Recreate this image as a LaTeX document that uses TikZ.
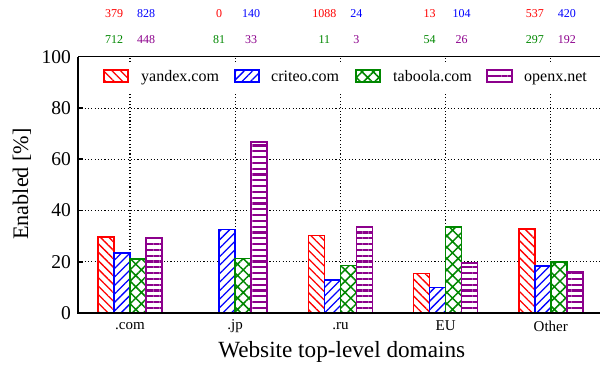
\documentclass[tikz,border=0pt]{standalone}
\usepackage{fontspec}
\setmainfont{Liberation Serif}
\usetikzlibrary{patterns.meta}
\definecolor{cred}{RGB}{255,0,0}
\definecolor{cblue}{RGB}{0,0,255}
\definecolor{cgreen}{RGB}{0,135,0}
\definecolor{cpurple}{RGB}{140,0,140}
\begin{document}
\begin{tikzpicture}[x=1pt,y=1pt,
  gridline/.style={line width=1.1pt, dash pattern=on 1.1pt off 2.2pt, black},
  axisline/.style={line width=1.8pt, black},
  redbar/.style={draw=cred, line width=1.6pt, preaction={fill=white}, pattern={Lines[angle=-45,distance=6pt,line width=1.3pt]}, pattern color=cred},
  bluebar/.style={draw=cblue, line width=1.6pt, preaction={fill=white}, pattern={Lines[angle=45,distance=6pt,line width=1.3pt]}, pattern color=cblue},
  greenbar/.style={draw=cgreen, line width=1.6pt, preaction={fill=white}, pattern={Hatch[angle=45,distance=8pt,line width=1.5pt]}, pattern color=cgreen},
  purplebar/.style={draw=cpurple, line width=1.6pt, preaction={fill=white}, pattern={Lines[angle=0,distance=5.8pt,line width=2.2pt]}, pattern color=cpurple},
  ticklab/.style={anchor=east, inner sep=0pt, font=\fontsize{19.5}{20}\selectfont},
  catlab/.style={inner sep=0pt, font=\fontsize{15}{16}\selectfont},
  cntlab/.style={inner sep=0pt, font=\fontsize{12}{13}\selectfont},
  leglab/.style={anchor=base west, inner sep=0pt, font=\fontsize{16}{17}\selectfont},
  axtitle/.style={inner sep=0pt, font=\fontsize{23.2}{24}\selectfont},
  aytitle/.style={inner sep=0pt, font=\fontsize{22.2}{24}\selectfont}
]
\useasboundingbox (0,0) rectangle (600,366);
% grid
\foreach \v in {20,40,60,80}{
  \draw[gridline] (78,{53+2.56*\v}) -- (600,{53+2.56*\v});
}
\foreach \i in {0,...,4}{
  \draw[gridline] ({130+105.2*\i},53) -- ({130+105.2*\i},309);
}
% top frame line
\draw[line width=1pt] (78,309) -- (600,309);
% legend background
\fill[white] (95,273) rectangle (592,302);
% bars
\foreach \i/\a/\b/\c/\d in {0/29.8/23.4/21.2/29.2, 1/0/32.6/21.3/66.9, 2/30.2/12.9/18.5/33.7, 3/15.5/9.9/33.6/19.5, 4/32.7/18.4/20/16}{
  \pgfmathsetmacro\cx{130+105.2*\i}
  \ifdim\a pt>0pt
    \draw[redbar] ({\cx-32},53) rectangle ({\cx-16},{53+2.56*\a});
  \fi
  \draw[bluebar] ({\cx-16},53) rectangle ({\cx},{53+2.56*\b});
  \draw[greenbar] ({\cx},53) rectangle ({\cx+16},{53+2.56*\c});
  \draw[purplebar] ({\cx+16},53) rectangle ({\cx+32},{53+2.56*\d});
}
% axes
\draw[axisline] (78,309) -- (78,53) -- (600,53);
\foreach \v in {20,40,60,80}{
  \draw[axisline] (78,{53+2.56*\v}) -- (83,{53+2.56*\v});
}
% tick labels
\foreach \v in {0,20,40,60,80,100}{
  \node[ticklab] (yt\v) at (71,{53+2.56*\v}) {\v};
}
% category labels
\foreach \i/\t/\n in {0/.com/com,1/.jp/jp,2/.ru/ru,3/EU/eu,4/Other/other}{
  \node[catlab] (cat\n) at ({130+105.2*\i},40) {\t};
}
% counts
\foreach \i/\a/\b/\c/\d in {0/379/828/712/448, 1/0/140/81/33, 2/1088/24/11/3, 3/13/104/54/26, 4/537/420/297/192}{
  \node[cntlab, text=cred] (na\i) at ({130+105.2*\i-16},352) {\a};
  \node[cntlab, text=cblue] (nb\i) at ({130+105.2*\i+16},352) {\b};
  \node[cntlab, text=cgreen] (nc\i) at ({130+105.2*\i-16},326) {\c};
  \node[cntlab, text=cpurple] (nd\i) at ({130+105.2*\i+16},326) {\d};
}
% legend
\draw[redbar] (104,284) rectangle (128,296);
\node[leglab] (lyandex) at (141,284.5) {yandex.com};
\draw[bluebar] (235,284) rectangle (259,296);
\node[leglab] (lcriteo) at (271,284.5) {criteo.com};
\draw[greenbar] (356,284) rectangle (380,296);
\node[leglab] (ltaboola) at (393,284.5) {taboola.com};
\draw[purplebar] (487,284) rectangle (512,296);
\node[leglab] (lopenx) at (524,284.5) {openx.net};
% axis titles
\node[axtitle, anchor=base] (xtitle) at (341.7,8) {Website top-level domains};
\node[aytitle, rotate=90] (ytitle) at (22,182) {Enabled [\%]};
\end{tikzpicture}
\end{document}
